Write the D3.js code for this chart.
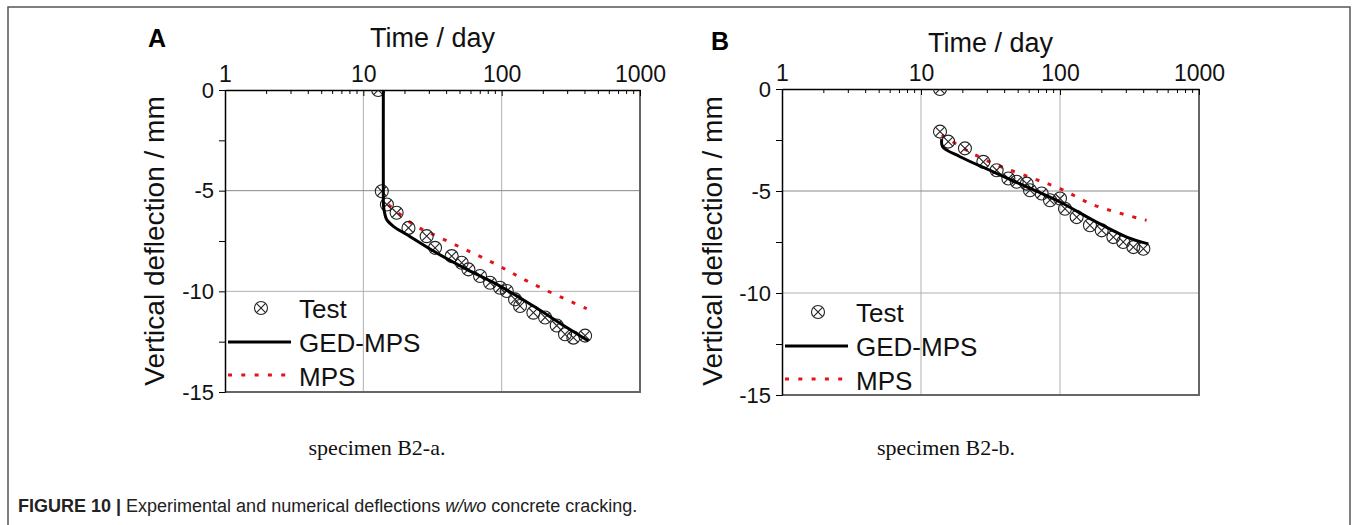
<!DOCTYPE html>
<html>
<head>
<meta charset="utf-8">
<script src="https://cdn.jsdelivr.net/npm/d3@7"></script>
<style>
  body { margin: 0; background: #fff; }
  svg { display: block; font-family: "Liberation Sans", Arial, sans-serif; }
</style>
</head>
<body>
<div id="viz"></div>
<script>
// tick values shared by both panels
const xTicks = [1, 10, 100, 1000];
const yTicks = [0, -5, -10, -15];
const yMinor = [-2.5, -7.5, -12.5];
const xGrid = [10, 100];
const yGrid = [-5, -10];

// panel A (specimen B2-a)
const aTestDay  = [12.8, 13.6, 14.8, 17.4, 21.2, 28.7, 33, 43.5, 51.4, 57.5, 69.8, 82.4, 97.3, 108.9, 125, 135.8, 169.5, 206, 250, 287, 330, 401];
const aTestDefl = [0, -5.03, -5.69, -6.1, -6.85, -7.26, -7.84, -8.25, -8.58, -8.91, -9.24, -9.57, -9.82, -9.98, -10.4, -10.73, -11.06, -11.3, -11.7, -12.13, -12.3, -12.2];
const aGedDay   = [13.95, 13.95, 14.0, 14.3, 14.76, 16.5, 20.6, 32.1, 56, 97.3, 169.5, 295.6, 423.6];
const aGedDefl  = [0, -5.0, -5.78, -6.15, -6.44, -6.77, -7.18, -8.0, -8.91, -9.74, -10.73, -11.8, -12.46];
const aMpsDay   = [15.2, 23, 36, 82, 170, 412];
const aMpsDefl  = [-5.69, -6.68, -7.34, -8.5, -9.65, -10.86];

// panel B (specimen B2-b)
const bTestDay  = [13.7, 13.7, 15.7, 20.7, 28.1, 35, 42.5, 48.8, 57.6, 60.8, 73.8, 84.7, 100, 108.6, 131.8, 164.3, 199.5, 242, 285, 337, 398];
const bTestDefl = [0, -2.09, -2.58, -2.91, -3.57, -3.98, -4.39, -4.55, -4.64, -4.96, -5.12, -5.45, -5.37, -5.87, -6.28, -6.68, -6.93, -7.26, -7.5, -7.75, -7.83];
const bGedDay   = [14.1, 14.3, 19.1, 33.1, 57.6, 100, 173.7, 302, 432];
const bGedDefl  = [-2.46, -2.83, -3.32, -4.06, -4.8, -5.54, -6.44, -7.26, -7.59];
const bMpsDay   = [14.1, 21.3, 33.1, 62, 100, 174, 420];
const bMpsDefl  = [-2.25, -3.0, -3.65, -4.35, -4.88, -5.68, -6.44];

const legendLabels = ["Test", "GED-MPS", "MPS"];

const W = 1356, H = 525;
const svg = d3.select("#viz").append("svg").attr("width", W).attr("height", H);

// outer frame (open at the bottom)
svg.append("path")
  .attr("d", `M8,${H + 5}V7H1350V${H + 5}`)
  .attr("fill", "none").attr("stroke", "#555").attr("stroke-width", 1.5);

const zip = (xs, ys) => xs.map((d, i) => ({t: d, v: ys[i]}));

function drawMarker(sel, cx, cy) {
  const r = 6.5, k = r * 0.7;
  const m = sel.append("g").attr("transform", `translate(${cx},${cy})`)
    .attr("fill", "none").attr("stroke", "#222").attr("stroke-width", 1.1);
  m.append("circle").attr("r", r);
  m.append("path").attr("d", `M${-k},${-k}L${k},${k}M${-k},${k}L${k},${-k}`);
}

function drawPanel(p) {
  const x = d3.scaleLog().domain([1, 1000]).range([p.x0, p.x1]);
  const y = d3.scaleLinear().domain([0, -15]).range([p.y0, p.y1]);
  const g = svg.append("g");

  const clipId = "clip" + p.letter;
  svg.append("clipPath").attr("id", clipId)
    .append("rect").attr("x", p.x0).attr("y", p.y0)
    .attr("width", p.x1 - p.x0).attr("height", p.y1 - p.y0);

  // grid
  g.selectAll(".gx").data(xGrid).join("line")
    .attr("x1", d => x(d)).attr("x2", d => x(d))
    .attr("y1", p.y0).attr("y2", p.y1)
    .attr("stroke", "#b0b0b0").attr("stroke-width", 1);
  g.selectAll(".gy").data(yGrid).join("line")
    .attr("x1", p.x0).attr("x2", p.x1)
    .attr("y1", d => y(d)).attr("y2", d => y(d))
    .attr("stroke", d => d === -5 ? "#888" : "#b0b0b0").attr("stroke-width", 1);

  // right and bottom frame
  g.append("path")
    .attr("d", `M${p.x1},${p.y0}V${p.y1}H${p.x0}`)
    .attr("fill", "none").attr("stroke", "#666").attr("stroke-width", 2);

  // top log axis, ticks inward
  const minorX = [];
  [1, 10, 100].forEach(dec => { for (let k = 2; k <= 9; k++) minorX.push(dec * k); });
  const topAx = g.append("g").attr("transform", `translate(0,${p.y0})`)
    .call(d3.axisTop(x).tickValues(xTicks).tickFormat(d3.format("d")).tickSizeInner(-6).tickSizeOuter(0).tickPadding(p.xPad));
  topAx.select(".domain").attr("stroke", "#000").attr("stroke-width", 1.5);
  topAx.selectAll("text").attr("font-size", 23).attr("fill", "#111");
  g.selectAll(".mx").data(minorX).join("line")
    .attr("x1", d => x(d)).attr("x2", d => x(d))
    .attr("y1", p.y0).attr("y2", p.y0 + 4)
    .attr("stroke", "#000").attr("stroke-width", 1);

  // left axis, ticks outward
  const leftAx = g.append("g").attr("transform", `translate(${p.x0},0)`)
    .call(d3.axisLeft(y).tickValues(yTicks.concat(yMinor))
      .tickFormat(d => yTicks.includes(d) ? d : "").tickSizeInner(6).tickSizeOuter(0).tickPadding(5));
  leftAx.select(".domain").attr("stroke", "#000").attr("stroke-width", 1.5);
  leftAx.selectAll("text").attr("font-size", 22).attr("fill", "#111");
  leftAx.selectAll("line").attr("stroke", "#000");

  // titles
  g.append("text").attr("x", p.letterX).attr("y", p.letterY)
    .attr("font-size", 25).attr("font-weight", "bold").text(p.letter);
  g.append("text").attr("x", (p.x0 + p.x1) / 2).attr("y", p.titleY)
    .attr("text-anchor", "middle").attr("font-size", 27).attr("fill", "#111").text("Time / day");
  g.append("text")
    .attr("transform", `translate(${p.ylabX},${p.ylabY}) rotate(-90)`)
    .attr("text-anchor", "middle").attr("font-size", 28).attr("fill", "#111")
    .text("Vertical deflection / mm");
  g.append("text").attr("x", p.capX).attr("y", 455)
    .attr("text-anchor", "middle").attr("font-family", "'Liberation Serif', 'Times New Roman', serif")
    .attr("font-size", 22).attr("fill", "#111").text(p.caption);

  // series
  const plot = g.append("g").attr("clip-path", `url(#${clipId})`);
  const line = d3.line().x(d => x(d.t)).y(d => y(d.v)).curve(d3.curveCatmullRom.alpha(0.5));

  plot.append("path").datum(zip(p.mpsDay, p.mpsDefl))
    .attr("d", line).attr("fill", "none")
    .attr("stroke", "#e3131b").attr("stroke-width", 3).attr("stroke-dasharray", "4,9");

  zip(p.testDay, p.testDefl).forEach(d => drawMarker(plot, x(d.t), y(d.v)));

  plot.append("path").datum(zip(p.gedDay, p.gedDefl))
    .attr("d", line).attr("fill", "none")
    .attr("stroke", "#000").attr("stroke-width", 3);

  // legend
  const lg = g.append("g");
  const lx = p.x0 + 3, ly = p.legY;
  drawMarker(lg, lx + 33, ly);
  lg.append("line").attr("x1", lx).attr("x2", lx + 63).attr("y1", ly + 34).attr("y2", ly + 34)
    .attr("stroke", "#000").attr("stroke-width", 3);
  lg.append("line").attr("x1", lx).attr("x2", lx + 63).attr("y1", ly + 67).attr("y2", ly + 67)
    .attr("stroke", "#e3131b").attr("stroke-width", 3).attr("stroke-dasharray", "4,9.3");
  lg.selectAll("text.leg").data(legendLabels).join("text")
    .attr("x", lx + 71).attr("y", (d, i) => ly + 10 + i * 34)
    .attr("font-size", 26).attr("fill", "#111").text(d => d);
}

drawPanel({
  letter: "A", letterX: 148, letterY: 47, titleY: 47, xPad: 8,
  x0: 225, x1: 640, y0: 90, y1: 392,
  ylabX: 164, ylabY: 241, capX: 377, caption: "specimen B2-a.", legY: 308,
  testDay: aTestDay, testDefl: aTestDefl, gedDay: aGedDay, gedDefl: aGedDefl,
  mpsDay: aMpsDay, mpsDefl: aMpsDefl
});

drawPanel({
  letter: "B", letterX: 711, letterY: 50, titleY: 52, xPad: 8,
  x0: 782, x1: 1199, y0: 89, y1: 395,
  ylabX: 722, ylabY: 241, capX: 946, caption: "specimen B2-b.", legY: 312,
  testDay: bTestDay, testDefl: bTestDefl, gedDay: bGedDay, gedDefl: bGedDefl,
  mpsDay: bMpsDay, mpsDefl: bMpsDefl
});

// figure caption
const cap = svg.append("text").attr("x", 18).attr("y", 512)
  .attr("font-size", 18).attr("fill", "#222");
cap.append("tspan").attr("font-weight", "bold").text("FIGURE 10 | ");
cap.append("tspan").text("Experimental and numerical deflections ");
cap.append("tspan").attr("font-style", "italic").text("w/wo");
cap.append("tspan").text(" concrete cracking.");
</script>
</body>
</html>
